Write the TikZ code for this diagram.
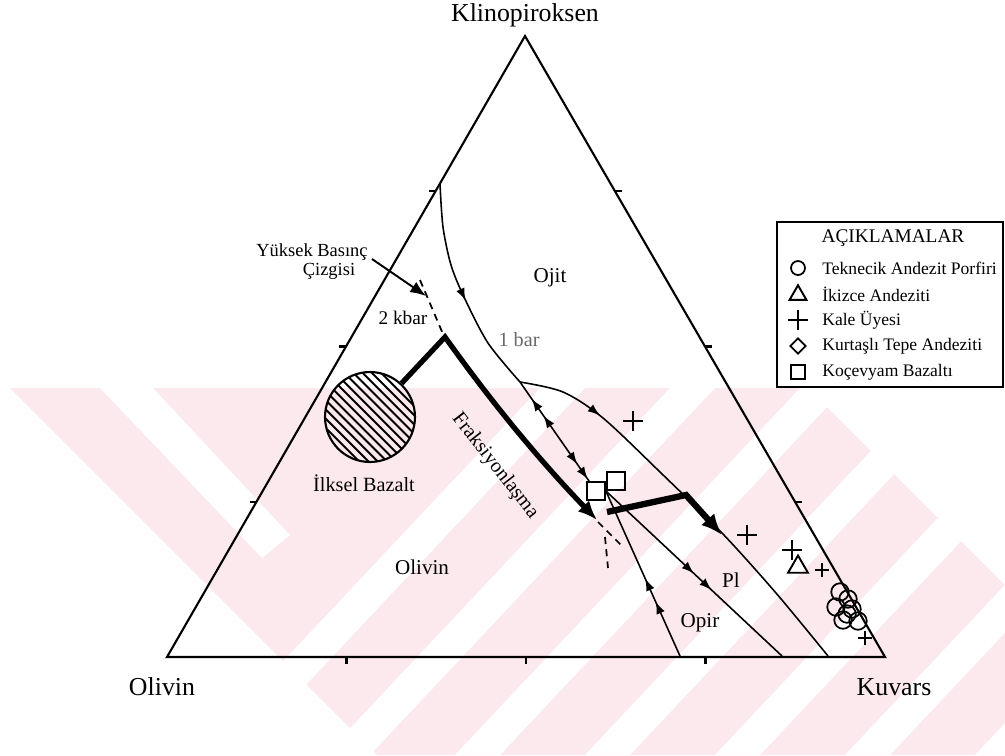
\documentclass[tikz,border=0pt]{standalone}
\usepackage{fontspec}
\setmainfont{Liberation Serif}
\usetikzlibrary{arrows.meta,calc,decorations.markings,positioning,shapes.geometric}
\definecolor{bargray}{RGB}{105,105,105}
\definecolor{wmpink}{RGB}{252,233,237}
\tikzset{
  >={Latex[length=7pt,width=5pt]},
  sideline/.style={line width=1.2pt,line join=miter},
  cotectic/.style={line width=0.9pt},
  fracline/.style={line width=3pt,line join=miter,-{Latex[length=11pt,width=9pt]}},
  hpline/.style={line width=1pt,dash pattern=on 4pt off 3pt},
  arrowat/.style={postaction={decorate,decoration={markings,mark=at position #1 with {\arrow{>}}}}},
  arrowback/.style={postaction={decorate,decoration={markings,mark=at position #1 with {\arrowreversed{>}}}}},
  apex/.style={font=\fontsize{14.7}{17}\selectfont},
  field/.style={font=\fontsize{12}{14}\selectfont},
  note/.style={font=\fontsize{11}{11}\selectfont},
  legtext/.style={font=\fontsize{10}{12}\selectfont,anchor=west,inner sep=0pt},
  tekn/.style={circle,draw,line width=1pt,minimum size=3.5mm,inner sep=0pt},
  ikiz/.style={regular polygon,regular polygon sides=3,draw,line width=1.1pt,minimum size=4.6mm,inner sep=0pt},
  kurt/.style={diamond,draw,line width=1pt,minimum size=3.2mm,inner sep=0pt},
  koce/.style={rectangle,draw,line width=1pt,minimum size=3.6mm,inner sep=0pt},
  kale/.pic={\draw[line width=0.6pt] (-10,0) -- (10,0) (0,-10) -- (0,10);},
}

\begin{document}
\begin{tikzpicture}[x=0.02cm,y=-0.02cm]
  \useasboundingbox (0,0) rectangle (1005,755);

  % striped stamp behind the lower half
  \begin{scope}
    \clip (10,388) rectangle (1005,755);
    \fill[wmpink] (10,388) -- (808,388) -- (1005,585) -- (1005,755) -- (377,755) -- cycle;
    \fill[white] (100,388) -- (153,388) -- (290,535) -- (262,558) -- cycle;
    \foreach \c in {950,1080,...,1860}
      \fill[white] ({\c-410},388) -- ({\c-365},388) -- ({\c-710},755) -- ({\c-755},755) -- cycle;
  \end{scope}

  % ternary frame with quarter ticks
  \coordinate (cpx) at (525,36);
  \coordinate (ol) at (167,657);
  \coordinate (qz) at (885,657);
  \draw[sideline] (ol) -- (cpx) -- (qz) -- cycle;
  \foreach \t in {0.25,0.5,0.75}{
    \draw[sideline] ($(cpx)!\t!(ol)$) -- ++(-7,0);
    \draw[sideline] ($(cpx)!\t!(qz)$) -- ++(7,0);
    \draw[sideline] ($(ol)!\t!(qz)$) -- ++(0,7);
  }
  \node[apex] (cpxlbl) at (525,15) {Klinopiroksen};
  \node[apex] (ollbl) at (162,687) {Olivin};
  \node[apex] (qzlbl) at (894,687) {Kuvars};

  % field names
  \node[field] (ojit) at (550,278) {Ojit};
  \node[field] (olfield) at (422,567) {Olivin};
  \node[field] (opir) at (700,623) {Opir};
  \node[field] (pl) at (731,580) {Pl};
  \node[note,text=bargray,font=\fontsize{11.5}{12}\selectfont] (onebar) at (519,340) {1 bar};
  \node[note] (twokbar) at (403,318) {2 kbar};

  % 1 bar cotectic and its branches
  \coordinate (junc) at (520,382);
  \draw[cotectic,arrowat=0.55] plot[smooth] coordinates {(440,184) (443,227) (451,265) (464,297) (488,343) (520,382)};
  \draw[cotectic,arrowat=0.21] plot[smooth] coordinates {(520,382) (563,392) (603,418) (660,472) (722,533) (776,593) (828,656)};

  % Kocevyam bazalti
  \node[koce] (sqA) at (596,491) {};
  \node[koce] (sqB) at (616,481) {};
  \draw[cotectic,arrowback=0.17,arrowback=0.34,arrowat=0.83,arrowat=0.98] (junc) -- (sqA);
  \coordinate (opirEnd) at (680,656);
  \coordinate (plEnd) at (782,656);
  \draw[cotectic,arrowat=0.33,arrowat=0.47] (opirEnd) -- (sqA.east);
  \draw[cotectic,arrowat=0.5,arrowat=0.6] (sqA.east) -- (plEnd);

  % high pressure line
  \coordinate (hpA) at (420,280);
  \coordinate (hpB) at (443,334);
  \coordinate (hpC) at (598,522);
  \coordinate (hpD) at (622,546);
  \coordinate (hpE) at (605,537);
  \coordinate (hpF) at (608,568);
  \draw[hpline] (hpA) -- (hpB);
  \draw[hpline] (hpC) -- (hpD);
  \draw[hpline] (hpE) -- (hpF);
  \node[note,font=\fontsize{10.5}{11}\selectfont] (ybc) at (312,252) {Yüksek Basınç};
  \node[note,font=\fontsize{10.5}{11}\selectfont] (ybcb) at (329,271) {Çizgisi};
  \coordinate (ybcTail) at (372,259);
  \coordinate (ybcTip) at (426,296);
  \draw[line width=1.1pt,-{Latex[length=9pt,width=7pt]}] (ybcTail) -- (ybcTip);

  % primary basalt
  \coordinate (bzc) at (370,417);
  \begin{scope}
    \clip (bzc) circle (0.9cm);
    \foreach \k in {-9,...,9}
      \draw[line width=1.1pt] ($(bzc)+(\k*4.6-70,-\k*4.6-70)$) -- ++(140,140);
  \end{scope}
  \node[circle,draw,line width=1.2pt,minimum size=1.8cm,inner sep=0pt] (bazalt) at (bzc) {};
  \node[field,font=\fontsize{11.5}{13}\selectfont] (bazlbl) at (364,483) {İlksel Bazalt};

  % fractionation paths
  \coordinate (peak) at (445,337);
  \coordinate (fracEnd) at (597,520);
  \draw[fracline] (bazalt) -- (peak) .. controls (470,372) and (520,440) .. (fracEnd);
  \node[field,font=\fontsize{11.5}{13}\selectfont,rotate=-52] (fraklbl) at (495,466) {Fraksiyonlaşma};
  \coordinate (eStart) at (607,512);
  \coordinate (eBend) at (686,495);
  \coordinate (eEnd) at (722,535);
  \draw[fracline,line width=3.6pt,-{Latex[length=12pt,width=10pt]}] (eStart) -- (eBend) -- (eEnd);

  % samples
  \foreach \p in {(633,421),(747,535),(792,550)}
    \pic at \p {kale};
  \foreach \p in {(822,570),(865,638)}
    \pic[scale=0.7] at \p {kale};
  \node[ikiz] (ikz) at (798,567) {};
  \foreach \p [count=\i] in {(840,592),(848,599),(836,607),(852,609),(843,620),(858,621),(847,614)}
    \node[tekn] (tk\i) at \p {};

  % legend
  \draw[line width=1.1pt] (777,222) rectangle (1003,387);
  \node[font=\fontsize{11}{12}\selectfont] (legtitle) at (893,238) {AÇIKLAMALAR};
  \node[tekn,minimum size=2.8mm] (lg1) at (798,268) {};
  \node[ikiz,minimum size=3.9mm] (lg2) at (798,295) {};
  \pic at (798,320) {kale};
  \node[kurt] (lg4) at (798,346) {};
  \node[koce,minimum size=2.8mm] (lg5) at (798,372) {};
  \node[legtext] (lt1) at (822,268) {Teknecik Andezit Porfiri};
  \node[legtext] (lt2) at (822,294) {İkizce Andeziti};
  \node[legtext] (lt3) at (822,320) {Kale Üyesi};
  \node[legtext] (lt4) at (822,346) {Kurtaşlı Tepe Andeziti};
  \node[legtext] (lt5) at (822,372) {Koçevyam Bazaltı};
\end{tikzpicture}
\end{document}
